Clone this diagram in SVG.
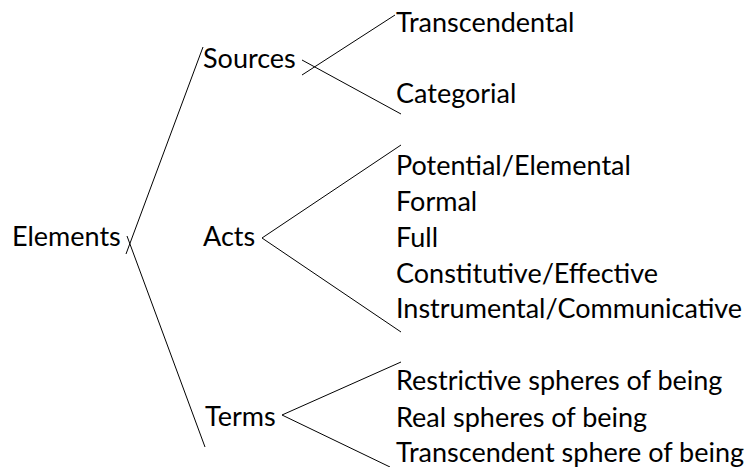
<svg xmlns="http://www.w3.org/2000/svg" width="749" height="467" viewBox="0 0 749 467">
<style>
text{font-family:Lato,"Carlito","Liberation Sans",sans-serif;font-size:27px;fill:#000}
.c line{stroke:#000;stroke-width:1;fill:none}
</style>
<rect width="749" height="467" fill="#fff"/>
<g class="c" id="connectors">
<line x1="203" y1="47" x2="126" y2="254"/>
<line x1="127" y1="236" x2="205" y2="447"/>
<line x1="302" y1="75" x2="395" y2="15"/>
<line x1="302" y1="60" x2="401" y2="114"/>
<line x1="262" y1="238" x2="401" y2="145"/>
<line x1="262" y1="238" x2="401" y2="332"/>
<line x1="282" y1="415" x2="401" y2="362"/>
<line x1="282" y1="415" x2="390" y2="467"/>
</g>
<g id="elements"><text x="12" y="246">Elements</text></g>
<g id="sources"><text x="203" y="68">Sources</text></g>
<g id="acts"><text x="203" y="246">Acts</text></g>
<g id="terms"><text x="205" y="426">Terms</text></g>
<g id="transcendental"><text x="396" y="32">Transcendental</text></g>
<g id="categorial"><text x="396" y="103">Categorial</text></g>
<g id="potential"><text x="396" y="175">Potential/Elemental</text></g>
<g id="formal"><text x="396" y="211">Formal</text></g>
<g id="full"><text x="396" y="247">Full</text></g>
<g id="constitutive"><text x="396" y="283">Constitutive/Effective</text></g>
<g id="instrumental"><text x="396" y="318">Instrumental/Communicative</text></g>
<g id="restrictive"><text x="396" y="390">Restrictive spheres of being</text></g>
<g id="real"><text x="396" y="427">Real spheres of being</text></g>
<g id="transcendent"><text x="396" y="462">Transcendent sphere of being</text></g>
</svg>
